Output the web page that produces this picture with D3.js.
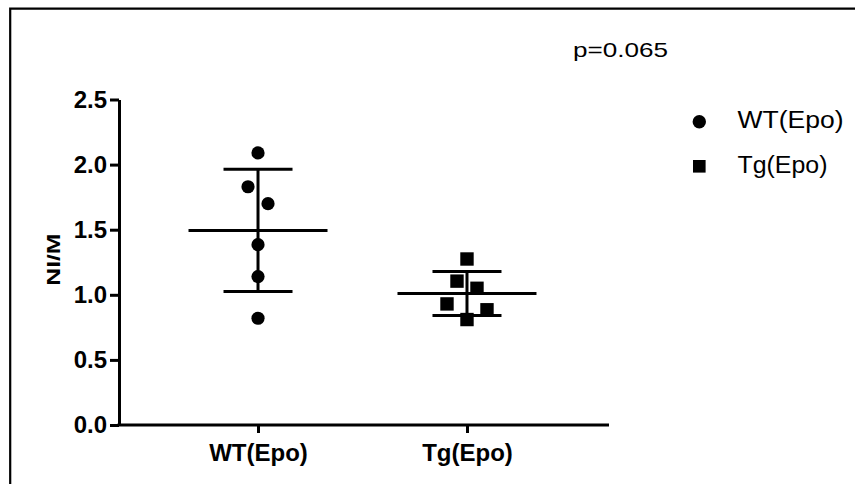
<!DOCTYPE html>
<html>
<head>
<meta charset="utf-8">
<script src="https://cdn.jsdelivr.net/npm/d3@7"></script>
<style>
  body { margin: 0; background: #fff; }
  svg { display: block; font-family: "Liberation Sans", Arial, Helvetica, sans-serif; }
</style>
</head>
<body>
<script>
// NI/M ratio per animal, two groups
const groups = ["WT(Epo)", "Tg(Epo)"];
const wtValues = [2.09, 1.83, 1.70, 1.385, 1.14, 0.82];
const tgValues = [1.275, 1.105, 1.05, 0.93, 0.885, 0.81];
const yTicks = [0, 0.5, 1.0, 1.5, 2.0, 2.5];
const yTitle = "NI/M";
const pLabel = "p=0.065";

const series = [
  { name: groups[0], values: wtValues, shape: "circle" },
  { name: groups[1], values: tgValues, shape: "square" }
];

const W = 855, H = 484;
const ink = "#000";

const svg = d3.select("body").append("svg")
  .attr("width", W).attr("height", H);

// outer frame (top and left edges)
svg.append("path")
  .attr("d", `M10.2,${H}V8.7H${W}`)
  .attr("fill", "none").attr("stroke", ink).attr("stroke-width", 2.2);

const x = d3.scalePoint().domain(groups).range([118, 607]).padding(0.67);
const y = d3.scaleLinear().domain([0, 2.5]).range([425, 99.5]);

// y axis
const yAxis = svg.append("g")
  .attr("transform", "translate(119,0)")
  .call(d3.axisLeft(y).tickValues(yTicks).tickFormat(d3.format(".1f"))
    .tickSize(9).tickSizeOuter(0).tickPadding(3));
yAxis.select(".domain").attr("stroke", ink).attr("stroke-width", 3);
yAxis.selectAll(".tick line").attr("stroke", ink).attr("stroke-width", 3);
yAxis.selectAll(".tick text")
  .attr("fill", ink).attr("font-size", 24).attr("font-weight", "bold")
  .attr("font-family", "Liberation Sans, Arial, sans-serif");

// x axis
const xAxis = svg.append("g")
  .attr("transform", "translate(0,425)")
  .call(d3.axisBottom(x).tickSize(8).tickSizeOuter(0).tickPadding(11));
xAxis.select(".domain").remove();
xAxis.selectAll(".tick line").attr("stroke", ink).attr("stroke-width", 3);
xAxis.selectAll(".tick text")
  .attr("fill", ink).attr("font-size", 24).attr("font-weight", "bold")
  .attr("font-family", "Liberation Sans, Arial, sans-serif");
svg.append("line")
  .attr("x1", 117.5).attr("x2", 609).attr("y1", y(0)).attr("y2", y(0))
  .attr("stroke", ink).attr("stroke-width", 3);

// y axis title
svg.append("text")
  .attr("transform", `translate(60,${y(1.27)}) rotate(-90)`)
  .attr("text-anchor", "middle")
  .attr("font-size", 19).attr("font-weight", "bold").attr("fill", ink)
  .attr("textLength", 52).attr("lengthAdjust", "spacingAndGlyphs")
  .text(yTitle);

// p-value annotation
svg.append("text")
  .attr("x", 573).attr("y", 56.5)
  .attr("font-size", 21).attr("fill", ink)
  .attr("textLength", 95).attr("lengthAdjust", "spacingAndGlyphs")
  .text(pLabel);

// horizontal spread of points that sit close together vertically
const clusterSpan = 20, slotGap = 20;
function spread(values) {
  const idx = d3.range(values.length).sort((a, b) => d3.descending(values[a], values[b]));
  const off = new Array(values.length).fill(0);
  let i = 0;
  while (i < idx.length) {
    const top = y(values[idx[i]]);
    const cluster = [idx[i]];
    let j = i + 1;
    while (j < idx.length && y(values[idx[j]]) - top < clusterSpan) { cluster.push(idx[j]); j++; }
    const n = cluster.length;
    const slots = d3.range(n).map(k => (k - (n - 1) / 2) * slotGap);
    // fill outer slots first, left then right, centre last
    const order = [];
    let lo = 0, hi = n - 1;
    while (lo <= hi) { order.push(lo++); if (lo <= hi) order.push(hi--); }
    cluster.forEach((p, k) => { off[p] = slots[order[k]]; });
    i = j;
  }
  return off;
}

const meanHalf = 69.5, capHalf = 34.5, markR = 6.6, markS = 13.4;

series.forEach(s => {
  const cx = x(s.name);
  const m = d3.mean(s.values);
  const sd = d3.deviation(s.values);
  const g = svg.append("g");

  // mean line and SD whiskers
  g.append("line")
    .attr("x1", cx).attr("x2", cx).attr("y1", y(m + sd)).attr("y2", y(m - sd))
    .attr("stroke", ink).attr("stroke-width", 3);
  [m + sd, m - sd].forEach(v => {
    g.append("line")
      .attr("x1", cx - capHalf).attr("x2", cx + capHalf).attr("y1", y(v)).attr("y2", y(v))
      .attr("stroke", ink).attr("stroke-width", 3);
  });
  g.append("line")
    .attr("x1", cx - meanHalf).attr("x2", cx + meanHalf).attr("y1", y(m)).attr("y2", y(m))
    .attr("stroke", ink).attr("stroke-width", 3);

  // individual points
  const off = spread(s.values);
  s.values.forEach((v, k) => {
    if (s.shape === "circle") {
      g.append("circle").attr("cx", cx + off[k]).attr("cy", y(v)).attr("r", markR).attr("fill", ink);
    } else {
      g.append("rect")
        .attr("x", cx + off[k] - markS / 2).attr("y", y(v) - markS / 2)
        .attr("width", markS).attr("height", markS).attr("fill", ink);
    }
  });
});

// legend
const legend = svg.append("g");
const legendRows = [
  { name: groups[0], shape: "circle", cy: 121.7, len: 106 },
  { name: groups[1], shape: "square", cy: 166.3, len: 90 }
];
legendRows.forEach(r => {
  if (r.shape === "circle") {
    legend.append("circle").attr("cx", 699.3).attr("cy", r.cy).attr("r", 6.7).attr("fill", ink);
  } else {
    legend.append("rect").attr("x", 693).attr("y", r.cy - 6.3)
      .attr("width", 12.6).attr("height", 12.6).attr("fill", ink);
  }
  legend.append("text")
    .attr("x", 737.5).attr("y", r.cy + 6.6)
    .attr("font-size", 23).attr("fill", ink)
    .attr("textLength", r.len).attr("lengthAdjust", "spacingAndGlyphs")
    .text(r.name);
});
</script>
</body>
</html>
